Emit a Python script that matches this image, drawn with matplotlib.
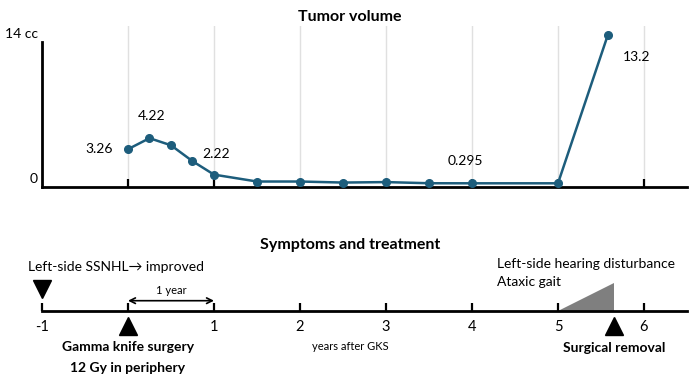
import numpy as np
import matplotlib.pyplot as plt

plt.rcParams['font.family'] = ['Lato', 'DejaVu Sans']

# tumor volume (cc) by years after GKS
years = [0, 0.25, 0.5, 0.75, 1, 1.5, 2, 2.5, 3, 3.5, 4, 5, 5.58]
volume = [3.26, 4.22, 3.6, 2.22, 1.05, 0.45, 0.45, 0.36, 0.4, 0.3, 0.295, 0.295, 13.2]
labelled = [0, 1, 3, 10, 12]
label_offsets = [(-21, 0), (1.5, 16), (17, 5), (-5, 16), (21, -16)]

# timeline events (years after GKS)
ssnhl_year = -1
gks_year = 0
onset_year = 5
surgery_year = 5.65
tick_years = [-1, 0, 1, 2, 3, 4, 5, 6]
tick_labels = ['-1', '', '1', '2', '3', '4', '5', '6']

line_col = '#1d5d7c'

fig = plt.figure(figsize=(7, 3.8), dpi=100)

# ---- top panel: tumor volume
ax = fig.add_axes([0.06, 0.5087, 0.9214, 0.4237])
ax.plot(years, volume, color=line_col, lw=1.8, marker='o', ms=5.5, zorder=3)
for i, off in zip(labelled, label_offsets):
    ax.annotate(f'{volume[i]:g}', xy=(years[i], volume[i]), xytext=off,
                textcoords='offset points', ha='center', va='center', fontsize=10)
ax.set_xlim(-1, 6.5)
ax.set_ylim(0, 14)
ax.set_xticks(range(0, 7))
ax.set_xticklabels([])
ax.set_yticks([])
ax.grid(axis='x', color='#e0e0e0', lw=1)
ax.tick_params(axis='x', direction='in', length=6, width=1.6, color='black')
for s in ['top', 'right']:
    ax.spines[s].set_visible(False)
ax.spines['left'].set_linewidth(2)
ax.spines['bottom'].set_linewidth(2)
ax.spines['left'].set_bounds(0, 12.6)
ax.text(-1.05, 13.25, '14 cc', ha='right', va='center', fontsize=10)
ax.text(-1.05, 0.65, '0', ha='right', va='center', fontsize=10)
fig.text(0.5, 1 - 17 / 380, 'Tumor volume', ha='center', va='center',
         fontsize=11.5, fontweight='bold')

# ---- bottom panel: symptoms and treatment timeline
bx = fig.add_axes([0.06, 0.0, 0.9214, 140 / 380])
bx.set_xlim(-1, 6.5)
bx.set_ylim(-69.3, 70.7)
for s in ['top', 'right', 'left']:
    bx.spines[s].set_visible(False)
bx.spines['bottom'].set_position(('data', 0))
bx.spines['bottom'].set_linewidth(2)
bx.set_yticks([])
bx.set_xticks(tick_years)
bx.set_xticklabels(tick_labels, fontsize=10.5)
bx.tick_params(axis='x', direction='in', length=6, width=1.6, pad=7)

fig.text(0.5, 1 - 245 / 380, 'Symptoms and treatment', ha='center', va='center',
         fontsize=11.5, fontweight='bold')

bx.plot(ssnhl_year, 22.2, marker='v', ms=12.5, color='black', clip_on=False)
bx.text(-1.163, 43.7, 'Left-side SSNHL\u2192 improved', ha='left', va='center', fontsize=10)

bx.annotate('', xy=(gks_year + 1, 10), xytext=(gks_year, 10),
            arrowprops=dict(arrowstyle='<->', color='black', lw=1.2,
                            shrinkA=0, shrinkB=0))
bx.text(gks_year + 0.5, 20.5, '1 year', ha='center', va='center', fontsize=8)

bx.plot(gks_year, -15.3, marker='^', ms=13, color='black', clip_on=False)
bx.text(gks_year, -36.3, 'Gamma knife surgery', ha='center', va='center',
        fontsize=10, fontweight='bold')
bx.text(gks_year, -57.3, '12 Gy in periphery', ha='center', va='center',
        fontsize=10, fontweight='bold')

bx.text(2.58, -36.3, 'years after GKS', ha='center', va='center', fontsize=8)

bx.fill([onset_year, surgery_year, surgery_year], [0, 0, 28], color='#7f7f7f', lw=0)
bx.text(4.287, 46.7, 'Left-side hearing disturbance', ha='left', va='center', fontsize=10)
bx.text(4.287, 28.7, 'Ataxic gait', ha='left', va='center', fontsize=10)

bx.plot(surgery_year, -15.3, marker='^', ms=13, color='black', clip_on=False)
bx.text(surgery_year, -37, 'Surgical removal', ha='center', va='center',
        fontsize=10, fontweight='bold')

fig.savefig('out.png', dpi=100)
